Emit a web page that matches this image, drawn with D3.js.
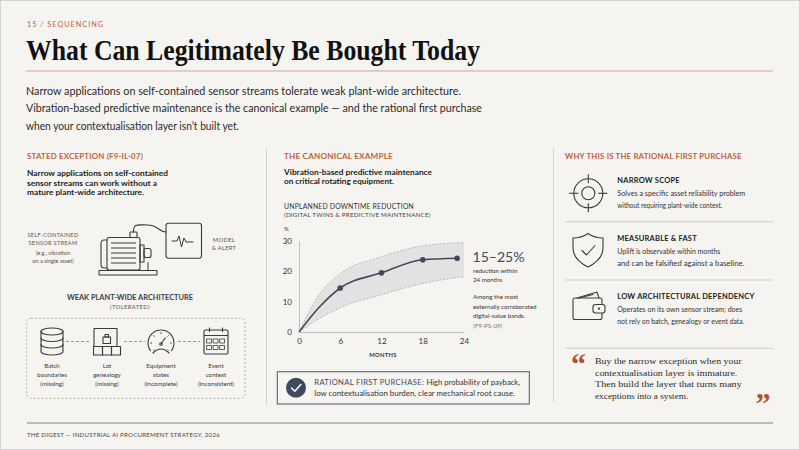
<!DOCTYPE html>
<html>
<head>
<meta charset="utf-8">
<script src="https://cdn.jsdelivr.net/npm/d3@7"></script>
<style>
  body { margin: 0; background: #f6f4f0; }
  svg { display: block; }
</style>
</head>
<body>
<svg id="chart"></svg>
<script>
// ---- data ----
const lineMonths = [0, 3, 6, 12, 18, 23]
const lineValues = [0, 8.3, 14.5, 19.5, 23.8, 24.3]
const lineMarked = [false, false, true, true, true, true]
const bandMonths = [0, 3, 6, 12, 18, 24]
const bandUpper = [0, 12.5, 19.2, 24.8, 28.4, 29.5]
const bandLower = [0, 4.5, 8, 12.3, 16, 18.3]
const xTicks = [0, 6, 12, 18, 24]
const yTicks = [0, 10, 20, 30]

const subtitleLines = [
    'Narrow applications on self-contained sensor streams tolerate weak plant-wide architecture.',
    'Vibration-based predictive maintenance is the canonical example \u2014 and the rational first purchase',
    'when your contextualisation layer isn\u2019t built yet.'
]
const archItems = [
    ['Batch', 'boundaries', '(missing)'],
    ['Lot', 'genealogy', '(missing)'],
    ['Equipment', 'states', '(incomplete)'],
    ['Event', 'context', '(inconsistent)']
]
const reasons = [
    { title: 'NARROW SCOPE', lines: ['Solves a specific asset reliability problem', 'without requiring plant-wide context.'] },
    { title: 'MEASURABLE & FAST', lines: ['Uplift is observable within months', 'and can be falsified against a baseline.'] },
    { title: 'LOW ARCHITECTURAL DEPENDENCY', lines: ['Operates on its own sensor stream; does', 'not rely on batch, genealogy or event data.'] }
]
const quoteLines = [
    'Buy the narrow exception when your',
    'contextualisation layer is immature.',
    'Then build the layer that turns many',
    'exceptions into a system.'
]

// ---- look ----
const W = 800, H = 450
const SANS = 'Lato, "Open Sans", sans-serif'
const SERIF = '"Liberation Serif", "DejaVu Serif", serif'
const ACCENT = '#c1603e'
const INK = '#1d1d1d'
const SLATE = '#3e4b5c'
const GRAY = '#555'
const RULE = '#d5d0c9'
const ICON = '#3a3a3a'

const svg = d3.select('#chart').attr('width', W).attr('height', H)
svg.append('rect').attr('width', W).attr('height', H).attr('fill', '#f6f4f0')
    .attr('stroke', '#c8c8c8').attr('stroke-width', 1.5)

function label(g, x, y, s, o = {}) {
    const t = g.append('text').attr('x', x).attr('y', y).text(s)
        .attr('font-family', o.family || SANS)
        .attr('font-size', o.size || 7)
        .attr('font-weight', o.weight || 400)
        .attr('fill', o.fill || INK)
        .attr('text-anchor', o.anchor || 'start')
    if (o.ls) t.attr('letter-spacing', o.ls)
    if (o.w) t.attr('textLength', o.w).attr('lengthAdjust', 'spacingAndGlyphs')
    return t
}
function line(g, x1, y1, x2, y2, stroke, sw = 1, dash = null) {
    const l = g.append('line').attr('x1', x1).attr('y1', y1).attr('x2', x2).attr('y2', y2)
        .attr('stroke', stroke).attr('stroke-width', sw)
    if (dash) l.attr('stroke-dasharray', dash)
    return l
}
const stroked = (sel, sw = 1.1) => sel.attr('fill', 'none').attr('stroke', ICON).attr('stroke-width', sw)
    .attr('stroke-linejoin', 'round').attr('stroke-linecap', 'round')

// ---- header ----
const head = svg.append('g')
label(head, 27, 27, '15 / SEQUENCING', { size: 7.5, fill: ACCENT, ls: 1, w: 77 })
label(head, 26, 60, 'What Can Legitimately Be Bought Today', { family: SERIF, size: 29, weight: 700, fill: '#111', w: 454 })
line(head, 26, 71, 773, 71, '#d9a792', 1)
const subW = [435, 456, 213]
subtitleLines.forEach((s, i) => label(head, 26, 95 + i * 17.3, s, { size: 11.5, fill: '#2a2a2a', w: subW[i] }))

// dividers
line(svg, 266.5, 148, 266.5, 405, RULE, 1)
line(svg, 553.5, 148, 553.5, 402, RULE, 1)

// ---- left column ----
const left = svg.append('g')
label(left, 27, 159, 'STATED EXCEPTION (F9-IL-07)', { size: 7.5, weight: 700, fill: ACCENT, ls: 0.2, w: 116 })
const leftBold = ['Narrow applications on self-contained', 'sensor streams can work without a', 'mature plant-wide architecture.']
const leftBoldW = [141, 130, 117]
leftBold.forEach((s, i) => label(left, 27, 176 + i * 9.6, s, { size: 7.8, weight: 700, fill: INK, w: leftBoldW[i] }))

const streamLbl = ['SELF-CONTAINED', 'SENSOR STREAM', '(e.g., vibration', 'on a single asset)']
const streamY = [237, 245, 255, 263]
streamLbl.forEach((s, i) => label(left, 53, streamY[i], s, { size: 5.6, fill: GRAY, anchor: 'middle', ls: i < 2 ? 0.3 : 0 }))
label(left, 224, 241.5, 'MODEL', { size: 5.8, fill: GRAY, anchor: 'middle', ls: 0.3 })
label(left, 224, 250, '& ALERT', { size: 5.8, fill: GRAY, anchor: 'middle', ls: 0.3 })

// motor illustration
const motor = left.append('g')
stroked(motor.append('path').attr('d', 'M107,240 L104,240 Q101,240 101,244 L101,264 Q101,268 104,268 L107,268'))
stroked(motor.append('rect').attr('x', 107).attr('y', 237.5).attr('width', 33).attr('height', 32.5).attr('rx', 2))
d3.range(5).forEach(i => line(motor, 111, 243 + i * 5, 136, 243 + i * 5, ICON, 1))
stroked(motor.append('rect').attr('x', 140).attr('y', 245).attr('width', 4).attr('height', 17))
stroked(motor.append('rect').attr('x', 144).attr('y', 248.5).attr('width', 7).attr('height', 9).attr('rx', 2))
stroked(motor.append('rect').attr('x', 99).attr('y', 270.5).attr('width', 58).attr('height', 4.5).attr('rx', 0.5))
line(motor, 148, 262, 148, 270.5, ICON, 1)
stroked(motor.append('rect').attr('x', 130).attr('y', 232).attr('width', 7).attr('height', 5.5).attr('rx', 0.8))
stroked(motor.append('path').attr('d', 'M133.5,232 C133.5,223 137,225 148,225 C158,225 159,232 166,232'))
stroked(motor.append('rect').attr('x', 166).attr('y', 223.3).attr('width', 35.5).attr('height', 35).attr('rx', 2.5))
stroked(motor.append('path').attr('d', 'M172,241 L177,241 L179,236 L181.5,247 L184,238 L186,242 L193,242'), 1)

label(left, 130, 300, 'WEAK PLANT-WIDE ARCHITECTURE', { size: 7.4, weight: 700, fill: '#3a3f47', anchor: 'middle', w: 126 })
label(left, 130, 308.5, '(TOLERATED)', { size: 5.8, fill: GRAY, anchor: 'middle', ls: 0.4 })

left.append('rect').attr('x', 26.7).attr('y', 318.3).attr('width', 218.3).attr('height', 80).attr('rx', 4)
    .attr('fill', 'none').attr('stroke', '#a8a8a8').attr('stroke-width', 0.9).attr('stroke-dasharray', '2,2')

const archX = [52, 107, 161, 216]
archItems.forEach((lines, i) => lines.forEach((s, j) =>
    label(left, archX[i], 368 + j * 9, s, { size: 6.2, fill: '#3a3a3a', anchor: 'middle' })))
;[[66, 89], [124, 145], [178, 200]].forEach(([a, b]) => line(left, a, 341.5, b, 341.5, '#999', 1, '3,2'))

// database
const db = left.append('g')
stroked(db.append('ellipse').attr('cx', 52).attr('cy', 331.5).attr('rx', 11).attr('ry', 3.5))
stroked(db.append('path').attr('d', 'M41,331.5 L41,351.5 A11,3.5 0 0 0 63,351.5 L63,331.5'))
;[338, 344.5].forEach(y => stroked(db.append('path').attr('d', `M41,${y} A11,3.5 0 0 0 63,${y}`)))
// lot genealogy
const lot = left.append('g')
stroked(lot.append('rect').attr('x', 94).attr('y', 328.5).attr('width', 23).attr('height', 18))
stroked(lot.append('rect').attr('x', 103).attr('y', 337).attr('width', 7.5).attr('height', 6.5))
stroked(lot.append('rect').attr('x', 105).attr('y', 334.5).attr('width', 3.5).attr('height', 2.5))
d3.range(3).forEach(i => stroked(lot.append('rect').attr('x', 93.5 + i * 9).attr('y', 346.5).attr('width', 9).attr('height', 8.5)))
// gauge
const gauge = left.append('g')
const gArc = d3.arc().innerRadius(13).outerRadius(13).startAngle(-2.2).endAngle(2.2)
stroked(gauge.append('path').attr('d', gArc()).attr('transform', 'translate(161,343)'))
stroked(gauge.append('path').attr('d', 'M153,353 Q161,345 169,353'))
d3.range(7).forEach(i => {
    const a = -Math.PI * 0.75 + i * Math.PI * 0.25
    line(gauge, 161 + Math.sin(a) * 9, 343 - Math.cos(a) * 9, 161 + Math.sin(a) * 10.8, 343 - Math.cos(a) * 10.8, ICON, 0.9)
})
line(gauge, 161, 344, 165.5, 337.5, ICON, 1.1)
stroked(gauge.append('circle').attr('cx', 161).attr('cy', 344).attr('r', 1.3))
// calendar
const cal = left.append('g')
stroked(cal.append('rect').attr('x', 204).attr('y', 330).attr('width', 24).attr('height', 24).attr('rx', 1.5))
line(cal, 204, 335.5, 228, 335.5, ICON, 1)
;[209.5, 222.5].forEach(x => line(cal, x, 327.5, x, 332, ICON, 1.1))
d3.range(2).forEach(r => d3.range(3).forEach(c =>
    stroked(cal.append('rect').attr('x', 207 + c * 6.5).attr('y', 339 + r * 6.5).attr('width', 4.5).attr('height', 4), 0.8)))

// footer
line(svg, 27, 423, 773, 423, '#777', 0.9)
label(svg, 27, 436.5, 'THE DIGEST \u2014 INDUSTRIAL AI PROCUREMENT STRATEGY, 2026', { size: 6.3, fill: '#444', ls: 0.3, w: 193 })

// ---- middle column ----
const mid = svg.append('g')
label(mid, 284, 159, 'THE CANONICAL EXAMPLE', { size: 7.5, weight: 700, fill: ACCENT, ls: 0.2, w: 109 })
label(mid, 284, 175.3, 'Vibration-based predictive maintenance', { size: 7.8, weight: 700, w: 148 })
label(mid, 284, 184.3, 'on critical rotating equipment.', { size: 7.8, weight: 700, w: 110 })
label(mid, 284, 209, 'UNPLANNED DOWNTIME REDUCTION', { size: 6.8, fill: '#333', ls: 0.2, w: 130 })
label(mid, 284, 217.3, '(DIGITAL TWINS & PREDICTIVE MAINTENANCE)', { size: 5.6, fill: '#444', ls: 0.2, w: 146.7 })
label(mid, 284, 231, '%', { size: 6, fill: '#333' })

const x = d3.scaleLinear().domain([0, 24]).range([299, 464])
const y = d3.scaleLinear().domain([0, 30]).range([332, 241])

const plot = mid.append('g')
const band = bandMonths.map((m, i) => ({ m, lo: bandLower[i], hi: bandUpper[i] }))
plot.append('path').datum(band)
    .attr('d', d3.area().x(d => x(d.m)).y0(d => y(d.lo)).y1(d => y(d.hi)).curve(d3.curveMonotoneX))
    .attr('fill', '#e2e2e3')
;['lo', 'hi'].forEach(k => plot.append('path').datum(band)
    .attr('d', d3.line().x(d => x(d.m)).y(d => y(d[k])).curve(d3.curveMonotoneX))
    .attr('fill', 'none').attr('stroke', '#a9a9a9').attr('stroke-width', 0.8).attr('stroke-dasharray', '2,1.6'))

const yAxis = plot.append('g').attr('transform', `translate(${x(0)},0)`)
    .call(d3.axisLeft(y).tickValues(yTicks).tickSize(0).tickPadding(7))
yAxis.select('.domain').attr('stroke', '#bdbdbd')
yAxis.selectAll('text').attr('font-family', SANS).attr('font-size', 8).attr('fill', '#333')
const xAxis = plot.append('g').attr('transform', `translate(0,${y(0)})`)
    .call(d3.axisBottom(x).tickValues(xTicks).tickSize(0).tickPadding(6))
xAxis.select('.domain').attr('stroke', '#bdbdbd')
xAxis.selectAll('text').attr('font-family', SANS).attr('font-size', 8).attr('fill', '#333')
label(mid, 383, 357.3, 'MONTHS', { size: 5.8, weight: 700, fill: '#333', anchor: 'middle', ls: 0.3 })

const pts = lineMonths.map((m, i) => ({ m, v: lineValues[i], mark: lineMarked[i] }))
plot.append('path').datum(pts)
    .attr('d', d3.line().x(d => x(d.m)).y(d => y(d.v)).curve(d3.curveMonotoneX))
    .attr('fill', 'none').attr('stroke', SLATE).attr('stroke-width', 1.6)
plot.selectAll('circle.pt').data(pts.filter(d => d.mark)).join('circle').attr('class', 'pt')
    .attr('cx', d => x(d.m)).attr('cy', d => y(d.v)).attr('r', 2.8).attr('fill', SLATE)

label(mid, 472.5, 261.7, '15\u201325%', { size: 12.5, fill: SLATE, w: 52 })
label(mid, 473, 272.7, 'reduction within', { size: 6.2, fill: '#333' })
label(mid, 473, 282, '24 months', { size: 6.2, fill: '#333' })
;['Among the most', 'externally corroborated', 'digital-value bands.'].forEach((s, i) =>
    label(mid, 473, 299 + i * 9.5, s, { size: 6.2, fill: '#333' }))
label(mid, 473, 327.5, '(F9-PS-09)', { size: 6.2, fill: '#777' })

mid.append('rect').attr('x', 277.3).attr('y', 371.7).attr('width', 252).attr('height', 32.3)
    .attr('fill', '#f7f5f2').attr('stroke', '#5b6573').attr('stroke-width', 1.1)
mid.append('circle').attr('cx', 296).attr('cy', 387.8).attr('r', 10).attr('fill', SLATE)
mid.append('path').attr('d', 'M291.5,388 L294.8,391.2 L300.8,384.6').attr('fill', 'none')
    .attr('stroke', '#fff').attr('stroke-width', 1.5).attr('stroke-linecap', 'round').attr('stroke-linejoin', 'round')
const rfp = label(mid, 314.3, 385, '', { size: 7.3, fill: '#333', w: 205.7 })
rfp.append('tspan').attr('fill', SLATE).attr('letter-spacing', 0.3).text('RATIONAL FIRST PURCHASE: ')
rfp.append('tspan').text('High probability of payback,')
label(mid, 314.3, 396, 'low contextualisation burden, clear mechanical root cause.', { size: 7.3, fill: '#333', w: 200.7 })

// ---- right column ----
const right = svg.append('g')
label(right, 565, 158.7, 'WHY THIS IS THE RATIONAL FIRST PURCHASE', { size: 7.5, weight: 700, fill: ACCENT, ls: 0.2, w: 176.7 })
const reasonTop = [182.7, 241, 298.7]
const descW = [[128, 105], [103, 127], [125, 127]]
reasons.forEach((r, i) => {
    label(right, 617.3, reasonTop[i], r.title, { size: 7.5, weight: 700, fill: '#222', ls: 0.2 })
    r.lines.forEach((s, j) => label(right, 617.3, reasonTop[i] + 13 + j * 12, s, { size: 7.2, fill: '#333', w: descW[i][j] }))
})
;[221.7, 280, 348.3].forEach(yy => line(right, 565, yy, 773, yy, '#d2cdc6', 1))

// crosshair
const ch = right.append('g').attr('transform', 'translate(588.3,193.3)')
stroked(ch.append('circle').attr('r', 14.5))
stroked(ch.append('circle').attr('r', 6.5))
;[[0, -1], [0, 1], [1, 0], [-1, 0]].forEach(([dx, dy]) => line(ch, dx * 10, dy * 10, dx * 19, dy * 19, ICON, 1.1))
// shield
const sh = right.append('g').attr('transform', 'translate(588,250)')
stroked(sh.append('path').attr('d', 'M0,-16.5 C5,-13 10,-12 15,-12 L15,-2 C15,7 8,13 0,17 C-8,13 -15,7 -15,-2 L-15,-12 C-10,-12 -5,-13 0,-16.5 Z'))
stroked(sh.append('path').attr('d', 'M-6,0.5 L-1.5,5 L7,-4.5'))
// wallet
const wl = right.append('g').attr('transform', 'translate(588,308)')
stroked(wl.append('path').attr('d', 'M-11,-10 L9,-16 L11,-10'))
stroked(wl.append('path').attr('d', 'M-9,-10 L5,-13.5'))
stroked(wl.append('rect').attr('x', -15).attr('y', -10).attr('width', 29).attr('height', 21.5).attr('rx', 2))
stroked(wl.append('rect').attr('x', 5).attr('y', -3.5).attr('width', 12).attr('height', 8.5).attr('rx', 2.5)).attr('fill', '#f6f4f0')
right.append('circle').attr('cx', 599).attr('cy', 308.7).attr('r', 1.1).attr('fill', ICON)

// quote
label(right, 571, 374, '\u201C', { family: SERIF, size: 30, weight: 700, fill: '#b4502f' })
label(right, 755.5, 412.5, '\u201D', { family: SERIF, size: 30, weight: 700, fill: '#b4502f' })
const qW = [146.7, 142.3, 146.7, 93.3]
quoteLines.forEach((s, i) => label(right, 595, 364.3 + i * 11.4, s, { family: SERIF, size: 8.8, fill: '#2b2b2b', w: qW[i] }))
</script>
</body>
</html>
